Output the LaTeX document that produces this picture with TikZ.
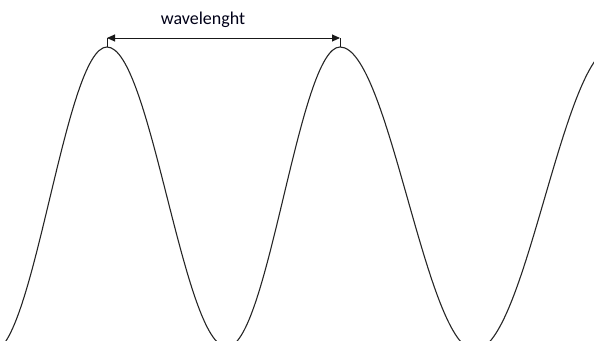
\documentclass[tikz,border=0pt]{standalone}
\usepackage{fontspec}
\setmainfont{Carlito}
\usetikzlibrary{arrows.meta,calc}
\tikzset{
  wave/.style={line width=1.1pt, black!85, line join=round},
  dimline/.style={line width=0.9pt, black!90, {Triangle[length=8pt,width=7pt]}-{Triangle[length=8pt,width=7pt]}},
  tick/.style={line width=0.9pt, black!90},
  lbl/.style={font=\fontsize{18}{21}\selectfont, text=black!85!blue!60!black, inner sep=0pt}
}
\begin{document}
\begin{tikzpicture}[x=1pt,y=-1pt]
\useasboundingbox (0,0) rectangle (594,340);
\clip (0,0) rectangle (594,340);
% extrema
\coordinate (t0) at (-8,352);
\coordinate (p1) at (107,47);
\coordinate (t1) at (227,347);
\coordinate (p2) at (340,47);
\coordinate (t2) at (475,350);
\coordinate (p3) at (614,47);
\draw[wave] (t0)
  .. controls ($(t0)+(0.364*115,0)$) and ($(p1)-(0.364*115,0)$) .. (p1)
  .. controls ($(p1)+(0.364*120,0)$) and ($(t1)-(0.364*120,0)$) .. (t1)
  .. controls ($(t1)+(0.364*113,0)$) and ($(p2)-(0.364*113,0)$) .. (p2)
  .. controls ($(p2)+(0.364*135,0)$) and ($(t2)-(0.364*135,0)$) .. (t2)
  .. controls ($(t2)+(0.364*139,0)$) and ($(p3)-(0.364*139,0)$) .. (p3);
\coordinate (a1) at (107,38);
\coordinate (a2) at (340,38);
\draw[tick] (p1) -- (a1);
\draw[tick] (p2) -- (a2);
\draw[dimline] (a1) -- (a2);
\node[lbl] (w) at (203,20) {wavelenght};
\end{tikzpicture}
\end{document}
